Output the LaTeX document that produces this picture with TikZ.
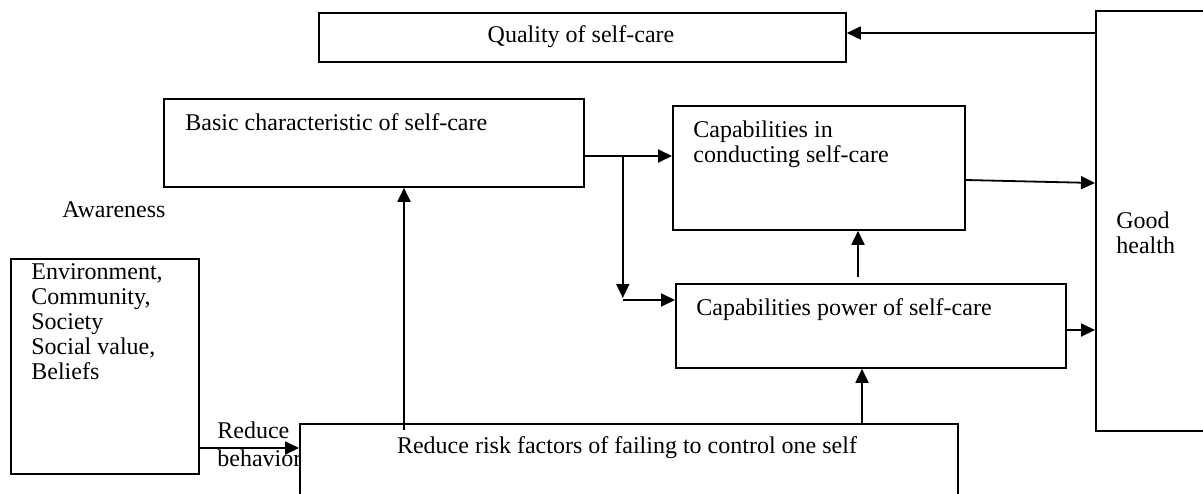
\documentclass[tikz,border=0pt]{standalone}
\usepackage{fontspec}
\setmainfont{Liberation Serif}
\usetikzlibrary{arrows.meta,calc}
\begin{document}
\begin{tikzpicture}[x=0.5pt,y=-0.5pt,
  box/.style={draw,line width=0.9pt,fill=white,inner sep=0pt,anchor=north west},
  lbl/.style={inner sep=0pt,anchor=base west,font=\fontsize{12}{12.4}\selectfont,align=left},
  arr/.style={line width=0.9pt,-{Triangle[length=7pt,width=6.5pt]}}]
\useasboundingbox (0,0) rectangle (1203,493);

% side labels (the reduce box is drawn over the second line)
\node[lbl] (aware) at (62,217) {Awareness};
\node[lbl] (redA) at (217,438) {Reduce};
\node[lbl] (redB) at (217,466) {behavior};

% boxes
\node[box,minimum width=263.5pt,minimum height=24.5pt] (qual) at (318,12) {};
\node[box,minimum width=57.5pt,minimum height=210pt] (good) at (1095,10) {};
\node[box,minimum width=210pt,minimum height=44pt] (basic) at (163,98) {};
\node[box,minimum width=146pt,minimum height=62pt] (cond) at (672,105) {};
\node[box,minimum width=195pt,minimum height=42pt] (power) at (675,283) {};
\node[box,minimum width=329pt,minimum height=43.5pt] (reduce) at (299,423) {};
\node[box,minimum width=94pt,minimum height=107.5pt] (env) at (10,258) {};

% box texts (multi-line texts are placed by the baseline of their last line)
\node[lbl,anchor=base] (tqual) at (581,42) {Quality of self-care};
\node[lbl] (tgood) at (1116,253) {Good\\health};
\node[lbl] (tbasic) at (185,130) {Basic characteristic of self-care};
\node[lbl] (tcond) at (693,162) {Capabilities in\\conducting self-care};
\node[lbl] (tpower) at (696,315) {Capabilities power of self-care};
\node[lbl,anchor=base] (treduce) at (627,453) {Reduce risk factors of failing to control one self};
\node[lbl] (tenv) at (31,379) {Environment,\\Community,\\Society\\Social value,\\Beliefs};

% connectors
\draw[arr] ([yshift=-11.5pt]good.north west) coordinate (g1) -- (qual.east |- g1);
\draw[arr] ([yshift=-29pt]basic.north east) coordinate (b1) -- (cond.west |- b1);
\coordinate (br) at ([xshift=19pt]b1);
\coordinate (p1) at ([yshift=-8.5pt]power.north west);
\draw[arr] (br) -- ([yshift=1pt]br |- p1);
\draw[arr] (br |- p1) -- (p1);
\draw[arr] ([yshift=-37.5pt]cond.north east) -- ([yshift=-86.5pt]good.north west);
\draw[arr] ([xshift=91.5pt,yshift=3pt]power.north west) coordinate (p3) -- (p3 |- cond.south);
\draw[arr] ([yshift=-23.5pt]power.north east) coordinate (p2) -- (good.west |- p2);
\draw[arr] ([xshift=281.5pt]reduce.north west) coordinate (r2) -- (r2 |- power.south);
\draw[arr] ([xshift=52.5pt,yshift=-3.5pt]reduce.north west) coordinate (r1) -- (r1 |- basic.south);
\draw[arr] ([yshift=-95pt]env.north east) coordinate (e1) -- (reduce.west |- e1);
\end{tikzpicture}
\end{document}
